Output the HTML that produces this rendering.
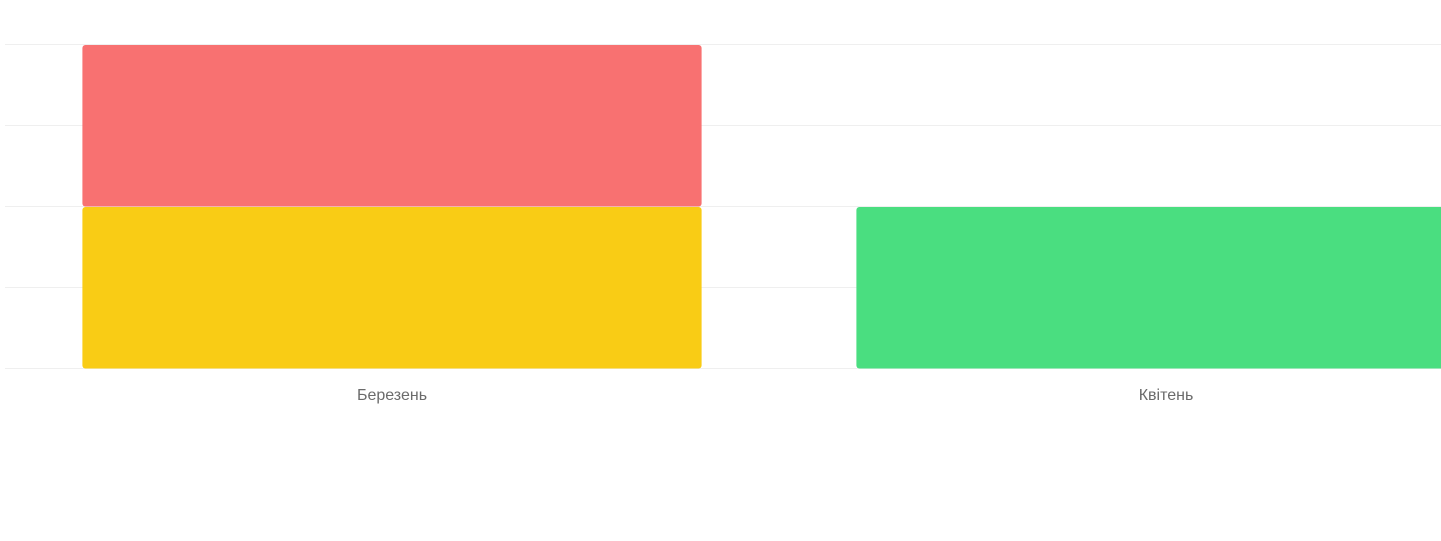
<!DOCTYPE html>
<html><head><meta charset="utf-8">
<style>
html,body{margin:0;padding:0;background:#fff;width:1441px;height:541px;overflow:hidden}
svg{display:block}
text{font-family:"Liberation Sans","DejaVu Sans",sans-serif;font-size:16px;fill:#6b6b6b}
</style></head>
<body>
<svg id="chart" width="1441" height="541" viewBox="0 0 1441 541">
<g id="grid"></g>
<g id="bars"></g>
<g id="xlabels"></g>
</svg>
<script>
const categories = ["Березень", "Квітень"];
const seriesNames = ["yellow", "red", "green"];
const seriesColors = ["#f9cc15", "#f87171", "#4ade80"];
const yellowValues = [2, 0];
const redValues = [2, 0];
const greenValues = [0, 2];
const yTicks = [0, 1, 2, 3, 4];

const svgNS = "http://www.w3.org/2000/svg";
const plotLeft = 5, bandW = 774, plotBottom = 368, plotTop = 44, yMax = 4;
const x = i => plotLeft + i * bandW;
const y = v => plotBottom - (plotBottom - plotTop) * v / yMax;

const grid = document.getElementById("grid");
yTicks.forEach(t => {
  const l = document.createElementNS(svgNS, "line");
  l.setAttribute("x1", plotLeft); l.setAttribute("x2", 1441);
  l.setAttribute("y1", y(t) + 0.5); l.setAttribute("y2", y(t) + 0.5);
  l.setAttribute("stroke", "#efefef"); l.setAttribute("stroke-width", "1");
  
  
  grid.appendChild(l);
});

const bars = document.getElementById("bars");
const allSeries = [yellowValues, redValues, greenValues];
categories.forEach((c, i) => {
  let base = 0;
  allSeries.forEach((vals, s) => {
    const v = vals[i];
    if (!v) return;
    const r = document.createElementNS(svgNS, "rect");
    const bx = x(i) + bandW * 0.1;
    r.setAttribute("x", bx);
    r.setAttribute("width", bandW * 0.8);
    r.setAttribute("y", y(base + v) + 1);
    r.setAttribute("height", y(base) - y(base + v) - 0.5);
    r.setAttribute("rx", 3);
    r.setAttribute("fill", seriesColors[s]);
    
    
    bars.appendChild(r);
    base += v;
  });
  const t = document.createElementNS(svgNS, "text");
  t.setAttribute("x", x(i) + bandW / 2);
  t.setAttribute("y", 400);
  t.setAttribute("text-anchor", "middle");
  t.textContent = c;
  
  
  document.getElementById("xlabels").appendChild(t);
});
</script>
</body></html>
